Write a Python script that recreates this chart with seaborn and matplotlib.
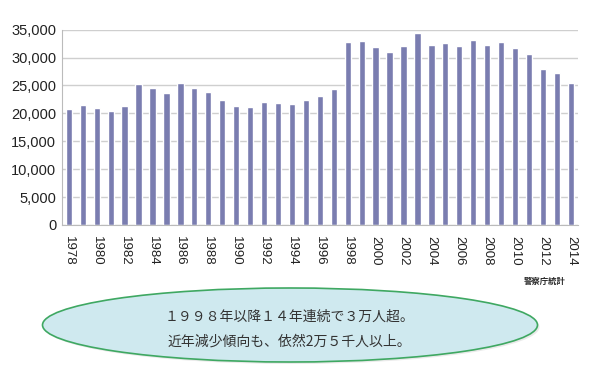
import matplotlib
matplotlib.use("Agg")
import matplotlib.pyplot as plt
import matplotlib.ticker as mtick
from matplotlib.patches import Ellipse
import seaborn as sns
import pandas as pd
import numpy as np

sns.set_theme(style="whitegrid")
plt.rcParams['font.family'] = ['Liberation Sans', 'Noto Sans CJK JP', 'DejaVu Sans']

BAR = "#7A7DB0"

years = list(range(1978, 2015))
suicides = [20788, 21503, 21048, 20434, 21228, 25202, 24596, 23599, 25524, 24460,
            23742, 22436, 21346, 21084, 22104, 21851, 21679, 22445, 23104, 24391,
            32863, 33048, 31957, 31042, 32143, 34427, 32325, 32552, 32155, 33093,
            32249, 32845, 31690, 30651, 27858, 27283, 25427]
y_ticks = [0, 5000, 10000, 15000, 20000, 25000, 30000, 35000]
source = "警察庁統計"
note_lines = ["１９９８年以降１４年連続で３万人超。", "近年減少傾向も、依然2万５千人以上。"]

df = pd.DataFrame({"year": [str(y) for y in years], "count": suicides})

fig = plt.figure(figsize=(5.89, 3.80), dpi=100)
ax = fig.add_axes([0.105, 0.408, 0.876, 0.514])

sns.barplot(data=df, x="year", y="count", color=BAR, width=0.45,
            saturation=1, ax=ax)

ax.set_ylim(0, 35000)
ax.set_xlim(-0.5, len(years) - 0.5)
ax.set_yticks(y_ticks)
ax.yaxis.set_major_formatter(mtick.StrMethodFormatter('{x:,.0f}'))
ax.tick_params(axis='y', labelsize=10.5, length=0, pad=4, labelcolor="#222222")

pos = np.arange(len(years))
ax.set_xticks(pos[::2])
ax.set_xticklabels(df["year"][::2], rotation=270, fontsize=9.5, color="#222222")
ax.set_xticks(np.arange(-0.5, len(years)), minor=True)
ax.tick_params(axis='x', which='major', length=0, pad=8)
ax.tick_params(axis='x', which='minor', length=4, color="#AAAAAA", width=0.8)
ax.set_xlabel("")
ax.set_ylabel("")

ax.grid(axis='y', color="#CFCFCF", linewidth=1)
ax.grid(axis='x', visible=False)
for s in ["top", "right"]:
    ax.spines[s].set_visible(False)
ax.spines["left"].set_color("#BBBBBB")
ax.spines["bottom"].set_color("#BBBBBB")
ax.spines["left"].set_linewidth(0.8)
ax.spines["bottom"].set_linewidth(0.8)
ax.set_facecolor("white")
fig.patch.set_facecolor("white")

fig.text(545 / 589, 1 - 281 / 380, source, fontsize=6, fontweight='bold',
         ha='center', va='center', family=['Noto Sans CJK JP'])

# speech ellipse
sh = Ellipse((292 / 589, 1 - 327 / 380), 495 / 589, 74 / 380,
             transform=fig.transFigure, facecolor="#DDDDDD", edgecolor="none",
             alpha=0.6, zorder=1)
fig.patches.append(sh)
el = Ellipse((290 / 589, 1 - 325 / 380), 495 / 589, 74 / 380,
             transform=fig.transFigure, facecolor="#CFE9EF", edgecolor="#3FA862",
             linewidth=1.2, zorder=2)
fig.patches.append(el)

fig.text(289 / 589, 1 - 317 / 380, note_lines[0], fontsize=10, color="#333333",
         ha='center', va='center', family=['Noto Sans CJK JP'], zorder=3)
fig.text(289 / 589, 1 - 342 / 380, note_lines[1], fontsize=10, color="#333333",
         ha='center', va='center', family=['Noto Sans CJK JP'], zorder=3)

fig.savefig("out.png", dpi=100)
